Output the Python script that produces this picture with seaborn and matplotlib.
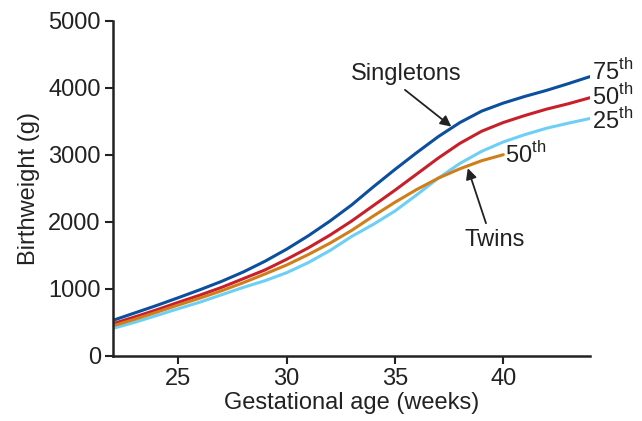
import matplotlib
matplotlib.use("Agg")
import matplotlib.pyplot as plt
import pandas as pd
import seaborn as sns

# semanas de gestação e peso ao nascer (g)
semanas = list(range(22, 45))
single_p75 = [530, 640, 750, 866, 985, 1110, 1250, 1410, 1590, 1790, 2010, 2250, 2520,
              2780, 3030, 3270, 3480, 3650, 3770, 3870, 3960, 4060, 4165]
single_p50 = [480, 580, 685, 797, 905, 1020, 1150, 1280, 1439, 1610, 1800, 2010, 2240,
              2470, 2710, 2950, 3170, 3350, 3480, 3585, 3680, 3760, 3850]
single_p25 = [409, 500, 600, 702, 800, 910, 1020, 1120, 1239, 1390, 1570, 1780, 1960,
              2160, 2400, 2650, 2870, 3050, 3190, 3300, 3395, 3470, 3540]
semanas_gem = list(range(22, 41))
twins_p50 = [448, 545, 650, 757, 860, 970, 1090, 1220, 1354, 1510, 1680, 1870, 2085,
             2290, 2480, 2650, 2790, 2910, 3000]

sns.set_theme(style="ticks")
plt.rcParams["font.family"] = ["Liberation Sans", "DejaVu Sans"]
plt.rcParams["mathtext.fontset"] = "custom"
plt.rcParams["mathtext.rm"] = "Liberation Sans"

fig = plt.figure(figsize=(6.42, 4.21), dpi=100)
ax = fig.add_axes([0.1765, 0.155, 0.7425, 0.796])

series = [
    (semanas, single_p75, "#0b4f9e"),
    (semanas, single_p50, "#c8202a"),
    (semanas, single_p25, "#6dcff6"),
    (semanas_gem, twins_p50, "#d07e1a"),
]
for x, y, cor in series:
    df = pd.DataFrame({"semana": x, "peso": y})
    sns.lineplot(data=df, x="semana", y="peso", color=cor, linewidth=2.2, ax=ax)

cor_txt = "#222222"
fs = 17
ax.set_xlim(22, 44)
ax.set_ylim(0, 5000)
ax.set_xticks([25, 30, 35, 40])
ax.set_yticks([0, 1000, 2000, 3000, 4000, 5000])
ax.tick_params(labelsize=fs, length=6, width=1.5, color=cor_txt, labelcolor=cor_txt, pad=3)
for s in ["left", "bottom"]:
    ax.spines[s].set_linewidth(1.8)
    ax.spines[s].set_color(cor_txt)
sns.despine(ax=ax)
ax.set_xlabel("Gestational age (weeks)", fontsize=fs, color=cor_txt, labelpad=1)
ax.set_ylabel("Birthweight (g)", fontsize=fs, color=cor_txt, labelpad=6)

ax.text(44.1, 4236, r"75$^{\mathrm{th}}$", fontsize=fs, va="center", ha="left", color=cor_txt)
ax.text(44.1, 3867, r"50$^{\mathrm{th}}$", fontsize=fs, va="center", ha="left", color=cor_txt)
ax.text(44.1, 3504, r"25$^{\mathrm{th}}$", fontsize=fs, va="center", ha="left", color=cor_txt)
ax.text(40.1, 2990, r"50$^{\mathrm{th}}$", fontsize=fs, va="center", ha="left", color=cor_txt)

ax.text(35.5, 4200, "Singletons", fontsize=fs, ha="center", va="center", color=cor_txt)
ax.annotate("", xy=(37.6, 3419), xytext=(35.46, 3967),
            arrowprops=dict(arrowstyle="-|>", color=cor_txt, lw=1.3,
                            shrinkA=0, shrinkB=0, mutation_scale=16))
ax.text(39.6, 1720, "Twins", fontsize=fs, ha="center", va="center", color=cor_txt)
ax.annotate("", xy=(38.36, 2798), xytext=(39.2, 1977),
            arrowprops=dict(arrowstyle="-|>", color=cor_txt, lw=1.3,
                            shrinkA=0, shrinkB=0, mutation_scale=16))

fig.savefig("out.png", dpi=100)
plt.close(fig)
